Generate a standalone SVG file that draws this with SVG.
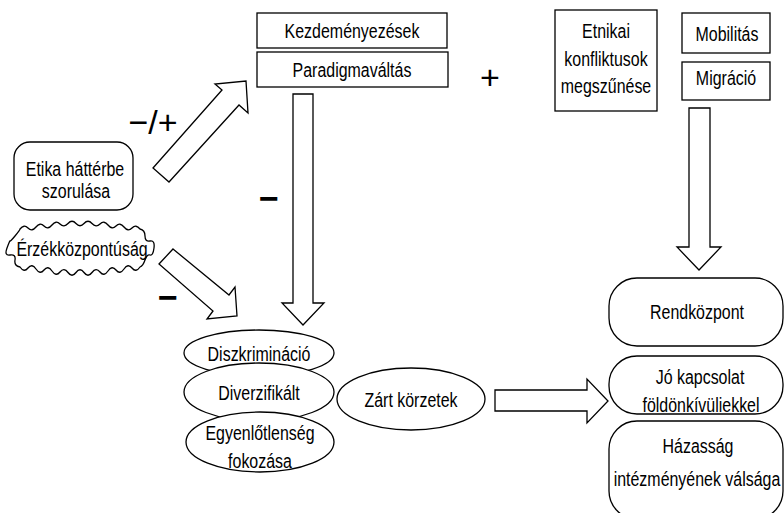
<svg xmlns="http://www.w3.org/2000/svg" width="784" height="513" viewBox="0 0 784 513">
<style>
text{font-family:"Liberation Sans","Arial",sans-serif;font-size:21px;fill:#000;text-anchor:middle}
.box{fill:#fff;stroke:#000;stroke-width:1.3}
.arrow{fill:#fff;stroke:#000;stroke-width:1.3;stroke-linejoin:miter}
.sign{font-size:34px}
.dash{font-size:34px;font-weight:bold}
</style>
<rect width="784" height="513" fill="#fff"/>
<g id="connectors">
<polygon class="arrow" points="153,168 222,90 215,84 246,81 248,113 239,105 169,182"/>
<polygon class="arrow" points="173,249 229,295 235,287 237,316 207,319 213,311 159,264"/>
<polygon class="arrow" points="293,94 313,94 313,303 324,303 303,325 282,303 293,303"/>
<polygon class="arrow" points="689,108 710,108 710,247 721,247 699,270 677,247 689,247"/>
<polygon class="arrow" points="495,390 587,390 587,379 608,401 587,423 587,411 495,411"/>
</g>
<g id="labels">
<text class="sign" x="153" y="134">−/+</text>
<text class="dash" x="269" y="210">−</text>
<text class="dash" x="168" y="309">−</text>
<text class="sign" x="490" y="89">+</text>
</g>
<g id="n-kezdemenyezesek">
<rect class="box" x="257" y="13" width="190" height="35"/>
<text transform="translate(352,38) scale(0.76,1)">Kezdeményezések</text>
</g>
<g id="n-paradigmavaltas">
<rect class="box" x="257" y="52" width="191" height="35"/>
<text transform="translate(352,77) scale(0.76,1)">Paradigmaváltás</text>
</g>
<g id="n-etnikai">
<rect class="box" x="555" y="10" width="102" height="101"/>
<text transform="translate(606,38) scale(0.76,1)">Etnikai</text>
<text transform="translate(606,66) scale(0.76,1)">konfliktusok</text>
<text transform="translate(606,93) scale(0.76,1)">megszűnése</text>
</g>
<g id="n-mobilitas">
<rect class="box" x="682" y="13" width="88" height="40"/>
<text transform="translate(727,41) scale(0.76,1)">Mobilitás</text>
</g>
<g id="n-migracio">
<rect class="box" x="682" y="62" width="88" height="38"/>
<text transform="translate(726,85) scale(0.76,1)">Migráció</text>
</g>
<g id="n-etika">
<rect class="box" x="14" y="142" width="119" height="68" rx="16"/>
<text transform="translate(75,176) scale(0.76,1)">Etika háttérbe</text>
<text transform="translate(76,198) scale(0.76,1)">szorulása</text>
</g>
<g id="n-erzek">
<path class="box" d="M20,229 q4,-5 8,-1 t8,-1 t8,-1 t8,-1 t8,-1 t8,-0.5 t8,0 t8,0 t8,0 t8,0.5 t8,1 t8,1 t8,1 t8,1 t8,1 q5,1 5,7 t5,5 t4,7 t-4,7 t-5,5 t-5,7 q-4,6 -8,1 t-8,1 t-8,1 t-8,1 t-8,1 t-8,0.5 t-8,0 t-8,0 t-8,0 t-8,-0.5 t-8,-1 t-8,-1 t-8,-1 t-8,-1 t-8,-1 q-6,-1 -5,-7 t-5,-5 t-3,-7 t3,-7 t5,-5 t5,-7 z"/>
<text transform="translate(82,256) scale(0.76,1)">Érzékközpontúság</text>
</g>
<g id="n-diszkriminacio">
<ellipse class="box" cx="259" cy="353" rx="75" ry="23"/>
<text transform="translate(259,361) scale(0.76,1)">Diszkrimináció</text>
</g>
<g id="n-diverzifikalt">
<ellipse class="box" cx="259" cy="392" rx="75" ry="29"/>
<text transform="translate(259,400) scale(0.76,1)">Diverzifikált</text>
</g>
<g id="n-egyenlotlenseg">
<ellipse class="box" cx="260" cy="442" rx="74" ry="30"/>
<text transform="translate(260,440) scale(0.76,1)">Egyenlőtlenség</text>
<text transform="translate(260,468) scale(0.76,1)">fokozása</text>
</g>
<g id="n-zart">
<ellipse class="box" cx="411" cy="399" rx="74" ry="31"/>
<text transform="translate(411,407) scale(0.76,1)">Zárt körzetek</text>
</g>
<g id="n-rendkozpont">
<rect class="box" x="609" y="278" width="174" height="68" rx="28"/>
<text transform="translate(697,319) scale(0.76,1)">Rendközpont</text>
</g>
<g id="n-jo">
<rect class="box" x="609" y="356" width="174" height="58" rx="28"/>
<text transform="translate(700,384) scale(0.76,1)">Jó kapcsolat</text>
<text transform="translate(701,412) scale(0.76,1)">földönkívüliekkel</text>
</g>
<g id="n-hazassag">
<rect class="box" x="609" y="421" width="174" height="98" rx="28"/>
<text transform="translate(698,453) scale(0.76,1)">Házasság</text>
<text transform="translate(697,486) scale(0.76,1)">intézményének válsága</text>
</g>
</svg>
